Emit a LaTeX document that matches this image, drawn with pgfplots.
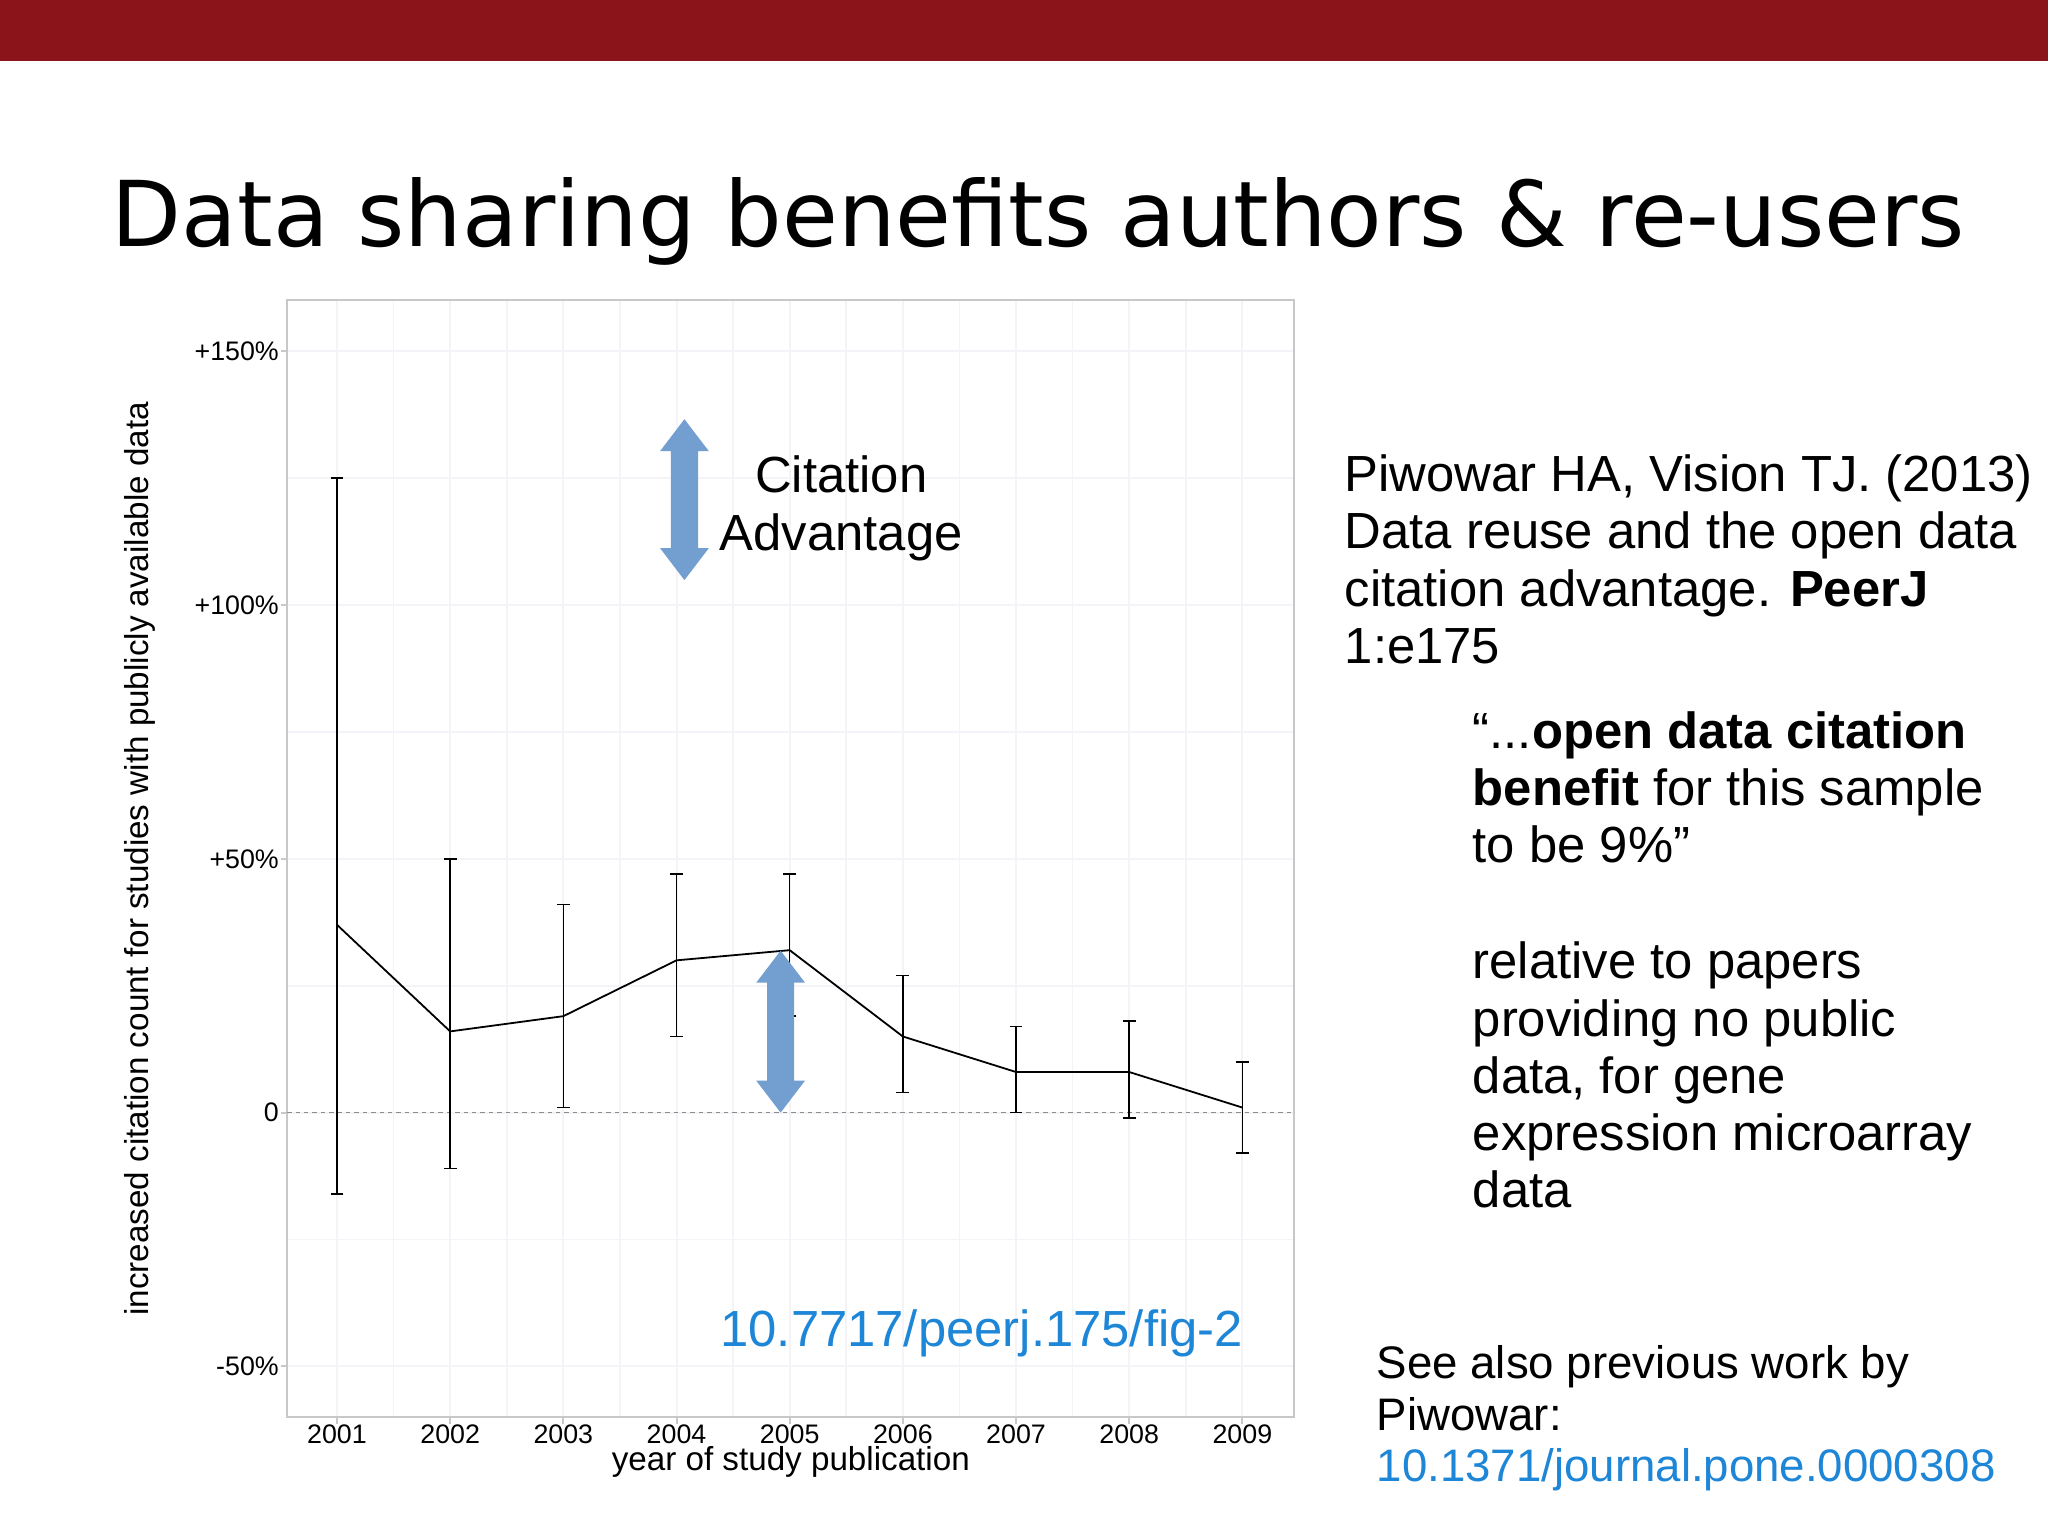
\documentclass[border=0pt]{standalone}
\usepackage{fontspec}
\setmainfont{Liberation Sans}
\newfontfamily\titlefont{DejaVu Sans}
\usepackage{pgfplots}
\usepackage{pgfplotstable}
\pgfplotsset{compat=1.18}

\definecolor{barred}{HTML}{8B141A}
\definecolor{arrowblue}{HTML}{729FCF}
\definecolor{linkblue}{HTML}{1E86D7}
\definecolor{gridc}{HTML}{F4F4F8}
\definecolor{framec}{HTML}{C8C8C8}

% year, estimate (%), upper and lower error
\pgfplotstableread{
year val plus minus
2001 37 88 53
2002 16 34 27
2003 19 22 18
2004 30 17 15
2005 32 15 13
2006 15 12 11
2007  8  9  8
2008  8 10  9
2009  1  9  9
}\citedata

\newcommand\bodyfont{\fontsize{12.7}{14.3}\selectfont}
\newcommand\smallbody{\fontsize{11.4}{12.8}\selectfont}

\begin{document}
\begin{tikzpicture}
\fill[white] (0,0) rectangle (512pt,384pt);
\useasboundingbox (0,0) rectangle (512pt,384pt);
\fill[barred] (0,368.8pt) rectangle (512pt,384pt);

\node[anchor=base, inner sep=0pt, font=\titlefont\fontsize{22.7}{27}\selectfont]
  at (259.6pt,322.3pt) {Data sharing benefits authors \& re-users};

\begin{axis}[
    at={(71.8pt,29.7pt)}, anchor=south west,
    width=251.8pt, height=279.2pt, scale only axis,
    xmin=2000.56, xmax=2009.46, ymin=-60, ymax=160,
    xtick={2001,2002,2003,2004,2005,2006,2007,2008,2009},
    xticklabels={2001,2002,2003,2004,2005,2006,2007,2008,2009},
    ytick={-50,0,50,100,150},
    yticklabels={-50\%,0,+50\%,+100\%,+150\%},
    minor tick num=1,
    grid=both,
    major grid style={gridc, line width=0.5pt},
    minor grid style={gridc, line width=0.4pt},
    axis line style={framec, line width=0.5pt},
    tick style={framec, line width=0.5pt},
    major tick length=1.6pt, minor tick length=0pt,
    tick align=outside,
    xtick pos=bottom, ytick pos=left,
    xticklabel style={font=\fontsize{6.7}{7}\selectfont, inner sep=0pt, anchor=north},
    yticklabel style={font=\fontsize{6.7}{7}\selectfont, inner sep=0pt, anchor=east, xshift=-0.3pt},
    xlabel={year of study publication},
    ylabel={increased citation count for studies with publicly available data},
    xlabel style={font=\fontsize{8.3}{9}\selectfont, inner sep=0pt, at={(axis description cs:0.5,-0.0476)}, anchor=base},
    ylabel style={font=\fontsize{8.3}{9}\selectfont, inner sep=0pt, at={(axis description cs:-0.1378,0.5)}, anchor=base},
]
\draw[black!45, line width=0.4pt, dash pattern=on 1.1pt off 1pt]
  (axis cs:2000.56,0) -- (axis cs:2009.46,0);

\addplot[black, line width=0.45pt, mark=none,
    error bars/.cd, y dir=both, y explicit,
    error mark=-,
    error bar style={black, line width=0.4pt},
    error mark options={rotate=90, black, line width=0.4pt, mark size=1.6pt}]
  table[x=year, y=val, y error plus=plus, y error minus=minus] {\citedata};

% citation advantage arrows
\fill[arrowblue] (axis cs:2004.07,136.6)
  -- ([xshift=6.1pt]axis cs:2004.07,130.3) -- ([xshift=3.4pt]axis cs:2004.07,130.3)
  -- ([xshift=3.4pt]axis cs:2004.07,111.2) -- ([xshift=6.1pt]axis cs:2004.07,111.2)
  -- (axis cs:2004.07,104.9)
  -- ([xshift=-6.1pt]axis cs:2004.07,111.2) -- ([xshift=-3.4pt]axis cs:2004.07,111.2)
  -- ([xshift=-3.4pt]axis cs:2004.07,130.3) -- ([xshift=-6.1pt]axis cs:2004.07,130.3)
  -- cycle;
\fill[arrowblue] (axis cs:2004.92,31.9)
  -- ([xshift=6.1pt]axis cs:2004.92,25.6) -- ([xshift=3.4pt]axis cs:2004.92,25.6)
  -- ([xshift=3.4pt]axis cs:2004.92,6.3) -- ([xshift=6.1pt]axis cs:2004.92,6.3)
  -- (axis cs:2004.92,0)
  -- ([xshift=-6.1pt]axis cs:2004.92,6.3) -- ([xshift=-3.4pt]axis cs:2004.92,6.3)
  -- ([xshift=-3.4pt]axis cs:2004.92,25.6) -- ([xshift=-6.1pt]axis cs:2004.92,25.6)
  -- cycle;
\end{axis}

\begin{scope}[every node/.style={inner sep=0pt}]
\node[anchor=base, font=\bodyfont] at (210.3pt,260.9pt) {Citation};
\node[anchor=base, font=\bodyfont] at (210.3pt,246.5pt) {Advantage};
\node[anchor=base west, font=\bodyfont, text=linkblue] at (179.9pt,47.5pt) {10.7717/peerj.175/fig-2};

\node[anchor=base west, font=\bodyfont] at (336pt,261.1pt) {Piwowar HA, Vision TJ. (2013)};
\node[anchor=base west, font=\bodyfont] at (336pt,246.8pt) {Data reuse and the open data};
\node[anchor=base west, font=\bodyfont] at (336pt,232.5pt) {citation advantage. \textbf{PeerJ}};
\node[anchor=base west, font=\bodyfont] at (336pt,218.2pt) {1:e175};

\node[anchor=base west, font=\bodyfont] at (368pt,196.9pt) {“...\textbf{open data citation}};
\node[anchor=base west, font=\bodyfont] at (368pt,182.6pt) {\textbf{benefit} for this sample};
\node[anchor=base west, font=\bodyfont] at (368pt,168.3pt) {to be 9\%”};

\node[anchor=base west, font=\bodyfont] at (368pt,139.3pt) {relative to papers};
\node[anchor=base west, font=\bodyfont] at (368pt,125.0pt) {providing no public};
\node[anchor=base west, font=\bodyfont] at (368pt,110.7pt) {data, for gene};
\node[anchor=base west, font=\bodyfont] at (368pt,96.4pt) {expression microarray};
\node[anchor=base west, font=\bodyfont] at (368pt,82.1pt) {data};

\node[anchor=base west, font=\smallbody] at (344pt,39.3pt) {See also previous work by};
\node[anchor=base west, font=\smallbody] at (344pt,26.5pt) {Piwowar:};
\node[anchor=base west, font=\smallbody, text=linkblue] at (344pt,13.7pt) {10.1371/journal.pone.0000308};
\end{scope}
\end{tikzpicture}
\end{document}
